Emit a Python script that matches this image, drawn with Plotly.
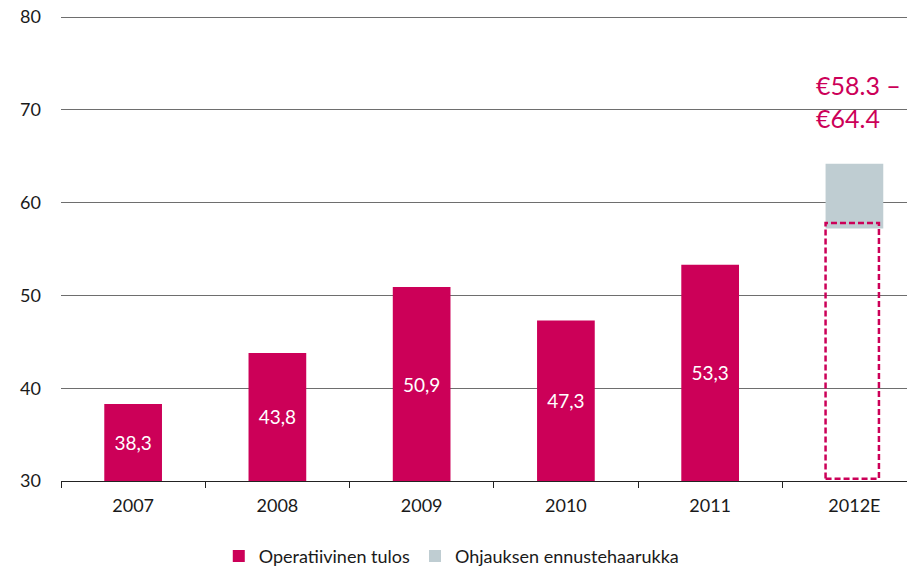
import plotly.graph_objects as go

years = ["2007", "2008", "2009", "2010", "2011"]
operating_result = [38.3, 43.8, 50.9, 47.3, 53.3]
value_labels = ["38,3", "43,8", "50,9", "47,3", "53,3"]

forecast_cat = ["2012E"]
forecast_low = [57.2]
forecast_high = [64.2]
forecast_text = "€58.3 –<br>€64.4"
dashed_top = 57.8

categories = years + forecast_cat
axis_min = 30
crimson = "#CC0058"
grey = "#BFCDD2"
font_family = "Lato, 'Open Sans', sans-serif"

fig = go.Figure()
fig.add_trace(go.Bar(
    x=years,
    y=[v - axis_min for v in operating_result],
    base=axis_min,
    width=0.4,
    marker=dict(color=crimson, line=dict(width=0)),
    text=value_labels,
    textposition="inside",
    insidetextanchor="middle",
    textfont=dict(color="white", size=19, family=font_family),
    name="Operatiivinen tulos",
    hoverinfo="skip",
))
fig.add_trace(go.Bar(
    x=forecast_cat,
    y=[h - l for h, l in zip(forecast_high, forecast_low)],
    base=forecast_low,
    width=0.4,
    marker=dict(color=grey, line=dict(width=0)),
    name="Ohjauksen ennustehaarukka",
    hoverinfo="skip",
))

fig.add_shape(
    type="rect", xref="x", yref="y",
    x0=4.8, x1=5.17, y0=axis_min + 0.25, y1=dashed_top,
    line=dict(color=crimson, width=2.5, dash="6px,3px"),
    fillcolor="rgba(0,0,0,0)",
)

fig.add_annotation(
    x=4.72, y=70.9, xref="x", yref="y",
    text=forecast_text, showarrow=False,
    xanchor="left", yanchor="middle", align="left",
    font=dict(color=crimson, size=25, family=font_family),
)

# plot area top sits a few pixels above the 80 line so that line is drawn
fig.update_layout(
    width=907, height=560,
    margin=dict(l=53, r=0, t=6, b=87, autoexpand=False),
    paper_bgcolor="white", plot_bgcolor="white",
    barmode="overlay",
    font=dict(family=font_family, color="#1a1a1a", size=18),
    showlegend=True,
    legend=dict(
        orientation="h", x=0.457, xanchor="center", xref="paper",
        y=-0.161, yanchor="middle",
        font=dict(size=18, color="#1a1a1a"),
        itemwidth=30, traceorder="normal",
    ),
    xaxis=dict(
        categoryorder="array", categoryarray=categories,
        range=[-0.5, 5.42],
        showline=True, linecolor="#222222", linewidth=1,
        ticks="outside", tickson="boundaries", ticklen=6, tickcolor="#222222",
        showgrid=False, ticklabelstandoff=8,
        tickfont=dict(size=18),
    ),
    yaxis=dict(
        range=[30, 80.324], dtick=10,
        showgrid=True, gridcolor="#6e6e6e", gridwidth=1,
        showline=False, zeroline=False,
        ticks="", ticklabelstandoff=19, ticklabeloverflow="allow",
        tickfont=dict(size=18),
    ),
)

fig.write_html("out.html")
